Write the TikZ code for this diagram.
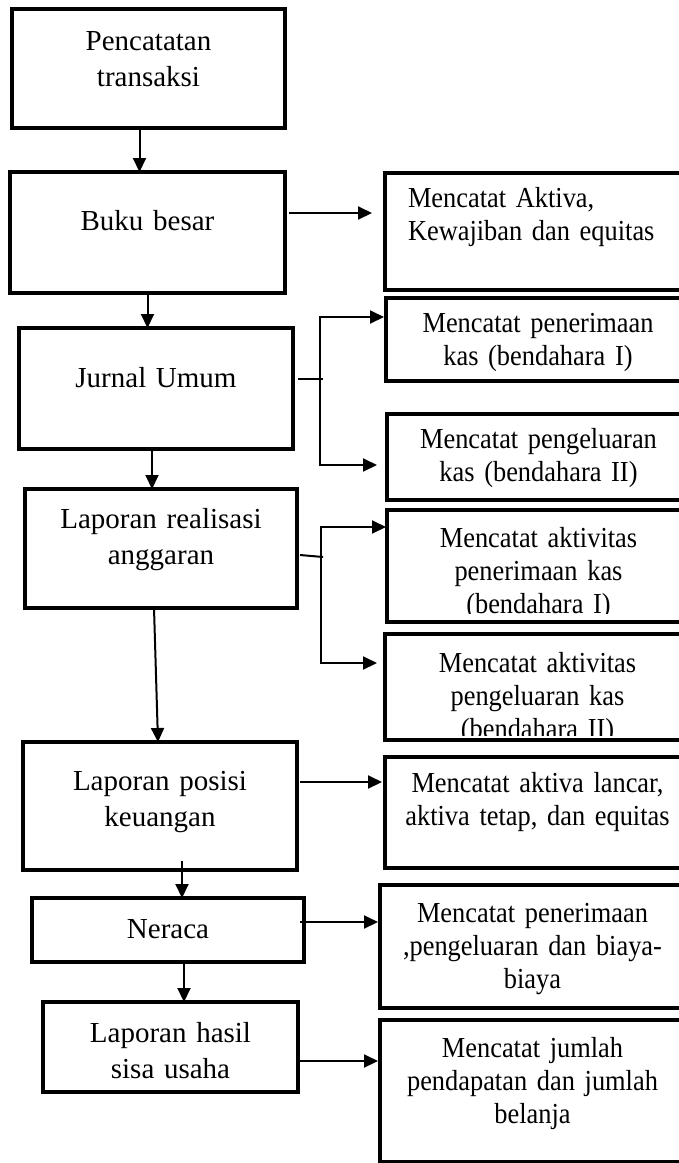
\documentclass[tikz,border=0pt]{standalone}
\usepackage{fontspec}
\setmainfont{Liberation Serif}
\newfontfamily\narrowserif{Liberation Serif}[FakeStretch=0.91]
\usetikzlibrary{arrows.meta}

\begin{document}
\begin{tikzpicture}[x=1pt,y=-1pt]
    \path[use as bounding box] (0,0) rectangle (679,1163);
    \clip (0,0) rectangle (679,1163);

    \begin{scope}[every node/.style={draw,line width=4.5pt,anchor=north west,inner sep=0pt,outer sep=0pt,align=center,font=\fontsize{29}{36}\selectfont}]
      \node[text width=273pt,text height=41pt,text depth=78pt] (pencatatan) at (12,9) {Pencatatan\\transaksi};
      \node[text width=275pt,text height=58pt,text depth=63pt] (bukubesar) at (10,172) {Buku besar};
      \node[text width=274pt,text height=59pt,text depth=62pt] (jurnal) at (19,328) {Jurnal Umum};
      \node[text width=272pt,text height=39pt,text depth=80pt] (realisasi) at (25,489) {Laporan realisasi\\anggaran};
      \node[text width=274pt,text height=48pt,text depth=80pt] (posisi) at (23,742) {Laporan posisi\\keuangan};
      \node[text width=272pt,text height=40pt,text depth=24pt] (neraca) at (32,898) {Neraca};
      \node[text width=255pt,text height=40pt,text depth=50pt] (shu) at (43,1002) {Laporan hasil\\sisa usaha};
    \end{scope}

    \begin{scope}[every node/.style={draw,line width=4pt,anchor=north west,inner sep=0pt,outer sep=0pt,align=center,font=\narrowserif\fontsize{29}{33}\selectfont}]
      \node[align=left,inner xsep=23pt,text width=259pt,text height=34pt,text depth=83pt] (aktiva) at (385,173) {Mencatat Aktiva,\\Kewajiban dan equitas};
      \node[text width=304pt,text height=34pt,text depth=49pt] (terima1) at (386,298) {Mencatat penerimaan\\kas (bendahara I)};
      \node[text width=303pt,text height=34pt,text depth=52pt] (keluar1) at (387,414) {Mencatat pengeluaran\\kas (bendahara II)};
      % last lines run past the bottom of these two boxes and are cut off
      \begin{scope}
        \clip (380,505) rectangle (700,613);
        \node[text width=303pt,text height=37pt,text depth=75pt] (terima2) at (387,510) {Mencatat aktivitas\\penerimaan kas\\(bendahara I)};
      \end{scope}
      \draw[line width=4pt] (terima2.north west) rectangle (terima2.south east);
      \begin{scope}
        \clip (380,628) rectangle (700,735);
        \node[text width=305pt,text height=38pt,text depth=68pt] (keluar2) at (385,634) {Mencatat aktivitas\\pengeluaran kas\\(bendahara II)};
      \end{scope}
      \draw[line width=4pt] (keluar2.north west) rectangle (keluar2.south east);
      \node[text width=305pt,text height=35pt,text depth=76pt] (lancar) at (385,757) {Mencatat aktiva lancar,\\aktiva tetap, dan equitas};
      \node[text width=305pt,text height=37pt,text depth=86pt] (biaya) at (380,885) {Mencatat penerimaan\\,pengeluaran dan biaya-\\biaya};
      \node[text width=305pt,text height=37pt,text depth=105pt] (belanja) at (380,1020) {Mencatat jumlah\\pendapatan dan jumlah\\belanja};
    \end{scope}

    \begin{scope}[>={Triangle[length=14pt,width=13pt]},line width=2pt]
      % down the left column
      \draw[->] ([xshift=-9pt]pencatatan.south) -- ([xshift=-9pt]pencatatan.south |- bukubesar.north);
      \draw[->] (bukubesar.south) -- (bukubesar.south |- jurnal.north);
      \draw[->] ([xshift=-4pt]jurnal.south) -- ([xshift=-4pt]jurnal.south |- realisasi.north);
      \draw[->] ([xshift=-7pt]realisasi.south) -- ([xshift=-2pt]posisi.north);
      \draw[->] ([xshift=22pt,yshift=9pt]posisi.south) -- ([xshift=22pt]posisi.south |- neraca.north);
      \draw[->] ([xshift=16pt]neraca.south) -- ([xshift=16pt]neraca.south |- shu.north);

      % out to the right column
      \draw[->] ([xshift=4pt,yshift=19.5pt]bukubesar.east) -- ([xshift=-13pt,yshift=18.5pt]aktiva.west);

      \coordinate (jtop) at (320,317);
      \coordinate (jbot) at (320,465);
      \draw ([xshift=5pt,yshift=9.5pt]jurnal.east) -- ++(25,0);
      \draw[<->] ([xshift=-2pt]jtop -| terima1.west) -- (jtop) -- (jbot) -- ([xshift=-10pt]jbot -| keluar1.west);

      \coordinate (rtop) at (321,527);
      \coordinate (rbot) at (321,663);
      \draw ([xshift=3pt,yshift=-6.5pt]realisasi.east) -- ++(23,2);
      \draw[<->] ([xshift=-1pt]rtop -| terima2.west) -- (rtop) -- (rbot) -- ([xshift=-8pt]rbot -| keluar2.west);

      \draw[->] ([xshift=3pt,yshift=24pt]posisi.east) -- ([xshift=-3pt,yshift=30.5pt]lancar.west);
      \draw[->] ([xshift=-4pt,yshift=8pt]neraca.east) -- ([xshift=-2pt,yshift=24.5pt]biaya.west);
      \draw[->] ([yshift=-14pt]shu.east) -- ([xshift=-2pt,yshift=30pt]belanja.west);
    \end{scope}
\end{tikzpicture}
\end{document}
